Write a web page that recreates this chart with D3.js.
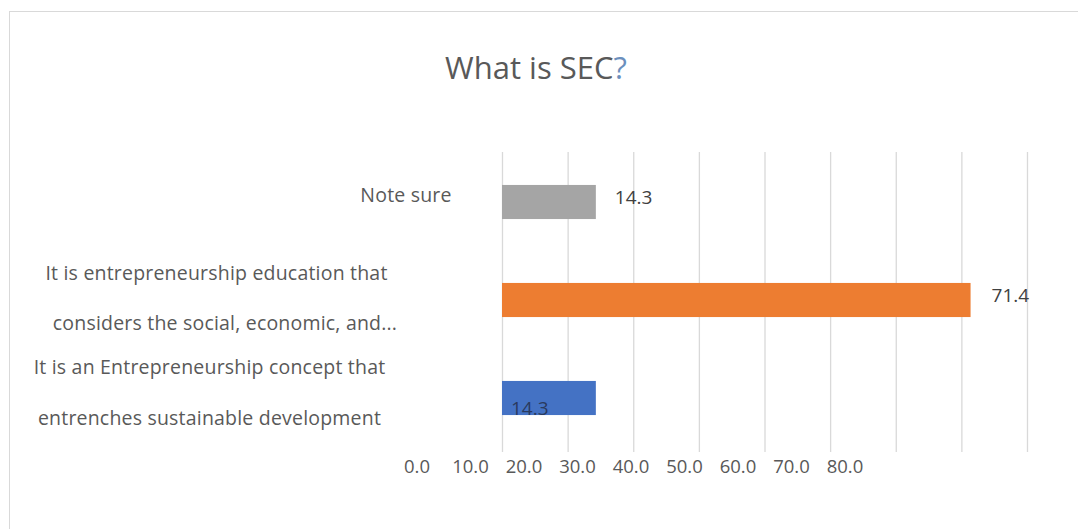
<!DOCTYPE html>
<html>
<head>
<meta charset="utf-8">
<script src="https://cdn.jsdelivr.net/npm/d3@7"></script>
<style>
  html, body { margin: 0; padding: 0; background: #fff; }
  svg { display: block; }
</style>
</head>
<body>
<svg id="chart" width="1078" height="529"></svg>
<script>
// ---- data ----
const categories = ["Note sure", "It is entrepreneurship education that considers the social, economic, and...", "It is an Entrepreneurship concept that entrenches sustainable development"];
const categoryLines = [
  ["Note sure"],
  ["It is entrepreneurship education that", "considers the social, economic, and..."],
  ["It is an Entrepreneurship concept that", "entrenches sustainable development"]
];
const values = [14.3, 71.4, 14.3];
const valueLabels = ["14.3", "71.4", "14.3"];
const tickValues = [0, 10, 20, 30, 40, 50, 60, 70, 80];
const tickLabels = ["0.0", "10.0", "20.0", "30.0", "40.0", "50.0", "60.0", "70.0", "80.0"];
const barColors = ["#a5a5a5", "#ed7d31", "#4472c4"];
const titleText = "What is SEC";
const titleMark = "?";

// ---- layout ----
const W = 1078, H = 529;
const svg = d3.select("#chart");
const FONT = "'Open Sans', 'Noto Sans', sans-serif";

// chart frame
svg.append("rect")
  .attr("x", 9.5).attr("y", 11.5)
  .attr("width", W + 10).attr("height", H + 10)
  .attr("fill", "#fff").attr("stroke", "#d9d9d9").attr("stroke-width", 1);

// title
const title = svg.append("text")
  .attr("x", 536).attr("y", 79)
  .attr("text-anchor", "middle")
  .attr("font-family", FONT).attr("font-size", 31)
  .attr("fill", "#595959");
title.append("tspan").text(titleText);
title.append("tspan").attr("fill", "#6b8fbd").text(titleMark);

// scales
const x = d3.scaleLinear().domain([0, 80]).range([502, 1027]);
const y = d3.scaleBand().domain(categories).range([153, 447])
  .paddingInner(0.652).paddingOuter(0.326);
// the tick labels in the source sit on their own (offset) track
const xLabel = d3.scaleLinear().domain([0, 80]).range([416.5, 844.5]);

// gridlines
svg.append("g")
  .attr("transform", "translate(0,452)")
  .call(d3.axisBottom(x).tickValues(tickValues).tickSize(-300).tickFormat(""))
  .call(g => g.select(".domain").remove())
  .call(g => g.selectAll(".tick line").attr("stroke", "#d9d9d9").attr("stroke-width", 1.3));

// tick labels
svg.append("g")
  .attr("transform", "translate(0,457)")
  .call(d3.axisBottom(xLabel).tickValues(tickValues).tickSize(0)
    .tickFormat((d, i) => tickLabels[i]))
  .call(g => g.select(".domain").remove())
  .call(g => g.selectAll(".tick text")
    .attr("font-family", FONT).attr("font-size", 18.5).attr("fill", "#595959"));

// bars
svg.append("g").selectAll("rect")
  .data(values)
  .join("rect")
  .attr("x", x(0))
  .attr("y", (d, i) => y(categories[i]))
  .attr("width", d => x(d) - x(0))
  .attr("height", y.bandwidth())
  .attr("fill", (d, i) => barColors[i]);

// value labels
const labelLayout = [
  { dx: 19, color: "#404040" },
  { dx: 21, color: "#404040" },
  { inside: true, color: "#2a3a5e" }
];
svg.append("g").selectAll("text")
  .data(values)
  .join("text")
  .attr("font-family", FONT).attr("font-size", 19)
  .attr("fill", (d, i) => labelLayout[i].color)
  .attr("x", (d, i) => labelLayout[i].inside ? x(0) + 9 : x(d) + labelLayout[i].dx)
  .attr("y", (d, i) => labelLayout[i].inside
        ? y(categories[i]) + y.bandwidth()
        : y(categories[i]) + y.bandwidth() / 2 - 3)
  .attr("dominant-baseline", (d, i) => labelLayout[i].inside ? "auto" : "middle")
  .text((d, i) => valueLabels[i]);

// category labels (per-line horizontal centres / vertical offsets from the source)
const lineLayout = [
  [{ cx: 406, dy: -5 }],
  [{ cx: 216.5, dy: -25 }, { cx: 225, dy: 25 }],
  [{ cx: 209.5, dy: -29 }, { cx: 209.5, dy: 22 }]
];
categoryLines.forEach((lines, i) => {
  const cy = y(categories[i]) + y.bandwidth() / 2;
  lines.forEach((line, j) => {
    svg.append("text")
      .attr("x", lineLayout[i][j].cx)
      .attr("y", cy + lineLayout[i][j].dy)
      .attr("text-anchor", "middle")
      .attr("dominant-baseline", "middle")
      .attr("font-family", FONT).attr("font-size", 19.5)
      .attr("letter-spacing", 0.2)
      .attr("fill", "#595959")
      .text(line);
  });
});
</script>
</body>
</html>
